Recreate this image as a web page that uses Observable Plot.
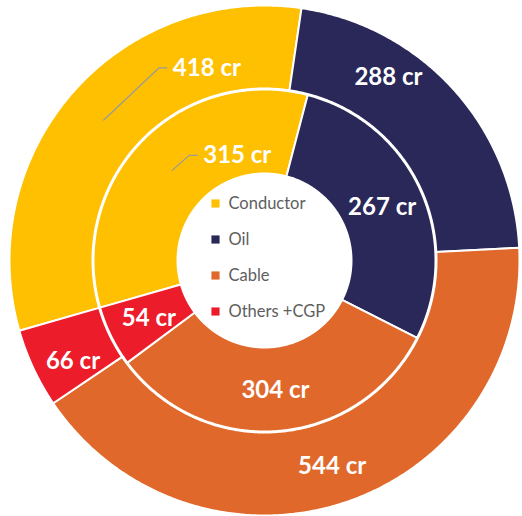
<!DOCTYPE html>
<html>
<head>
<meta charset="utf-8">
<script src="https://cdn.jsdelivr.net/npm/d3@7"></script>
<script src="https://cdn.jsdelivr.net/npm/@observablehq/plot@0.6"></script>
<style>
  body { margin: 0; background: #fff; }
  #chart svg { display: block; }
</style>
</head>
<body>
<div id="chart"></div>
<script>
// Segment data
const categories = ["Conductor", "Oil", "Cable", "Others +CGP"];
const outerValues = [418, 288, 544, 66];
const innerValues = [315, 267, 304, 54];
const unit = "cr";
const colors = ["#FEC000", "#292858", "#E1682B", "#EC1C2A"];

// Ring geometry, in pixel units around the centre
const W = 522, H = 516;
const CX = 264, CY = 260;
const OUTER = [172, 255];
const INNER = [87, 171];
const START_DEG = -106;

// Label placement relative to each segment centroid (screen px: dx right, dy down)
const outerLabelShift = [
  {dx: 69, dy: -52, leader: true},
  {dx: -34, dy: -40},
  {dx: 0, dy: 3},
  {dx: 2, dy: 10}
];
const innerLabelShift = [
  {dx: 31, dy: -15, leader: true},
  {dx: 0, dy: 0},
  {dx: 0, dy: 1},
  {dx: 0, dy: 1}
];

const rad = d => d * Math.PI / 180;
const pt = (deg, r) => [r * Math.sin(rad(deg)), r * Math.cos(rad(deg))];

function segments(values, [r0, r1], ring, shifts) {
  const total = d3.sum(values);
  let a = START_DEG;
  return values.map((v, i) => {
    const span = v / total * 360;
    const s = {ring, cat: categories[i], value: v, a0: a, a1: a + span, r0, r1, shift: shifts[i]};
    const [cx, cy] = pt(a + span / 2, (r0 + r1) / 2);
    s.cx = cx; s.cy = cy;
    s.lx = cx + s.shift.dx; s.ly = cy - s.shift.dy;
    a += span;
    return s;
  });
}

const segs = [
  ...segments(outerValues, OUTER, "outer", outerLabelShift),
  ...segments(innerValues, INNER, "inner", innerLabelShift)
];

// Each segment becomes a closed polygon: outer arc forward, inner arc back
const polyPoints = segs.flatMap(s => {
  const n = Math.max(2, Math.ceil((s.a1 - s.a0) * 2));
  const pts = [];
  for (let i = 0; i <= n; i++) {
    const [x, y] = pt(s.a0 + (s.a1 - s.a0) * i / n, s.r1);
    pts.push({key: s.ring + s.cat, cat: s.cat, x, y});
  }
  for (let i = n; i >= 0; i--) {
    const [x, y] = pt(s.a0 + (s.a1 - s.a0) * i / n, s.r0);
    pts.push({key: s.ring + s.cat, cat: s.cat, x, y});
  }
  return pts;
});

const leaderSegs = segs.filter(s => s.shift.leader);
const leaderPoints = leaderSegs.flatMap(s => [
  {key: s.ring, x: s.cx, y: s.cy},
  {key: s.ring, x: s.lx - 14, y: s.ly},
  {key: s.ring, x: s.lx - 6, y: s.ly}
]);

// Legend in the hole
const legendX = -49, legendTop = 57, legendStep = 36;
const legendRows = categories.map((c, i) => ({cat: c, x: legendX, y: legendTop - i * legendStep}));

const chart = Plot.plot({
  width: W,
  height: H,
  margin: 0,
  style: {background: "#fff", fontFamily: "Lato, sans-serif"},
  x: {domain: [-CX, W - CX], axis: null},
  y: {domain: [-(H - CY), CY], axis: null},
  color: {domain: categories, range: colors},
  marks: [
    Plot.line(polyPoints, {
      x: "x", y: "y", z: "key", fill: "cat",
      stroke: "#fff", strokeWidth: 2, curve: "linear-closed"
    }),
    Plot.line(leaderPoints, {
      x: "x", y: "y", z: "key", stroke: "#9b9b9b", strokeWidth: 1.3
    }),
    Plot.text(segs.filter(s => !s.shift.leader), {
      x: "lx", y: "ly", text: s => `${s.value} ${unit}`,
      fill: "#fff", fontSize: 24, fontWeight: 700, textAnchor: "middle"
    }),
    Plot.text(leaderSegs, {
      x: "lx", y: "ly", text: s => `${s.value} ${unit}`,
      fill: "#fff", fontSize: 24, fontWeight: 700, textAnchor: "start"
    }),
    Plot.dot(legendRows, {
      x: "x", y: "y", fill: "cat", symbol: "square", r: 4.6, stroke: null
    }),
    Plot.text(legendRows, {
      x: "x", y: "y", text: "cat", dx: 13, textAnchor: "start",
      fill: "#5e5e5e", fontSize: 16.5, fontWeight: 400
    })
  ]
});

document.getElementById("chart").appendChild(chart);
</script>
</body>
</html>
